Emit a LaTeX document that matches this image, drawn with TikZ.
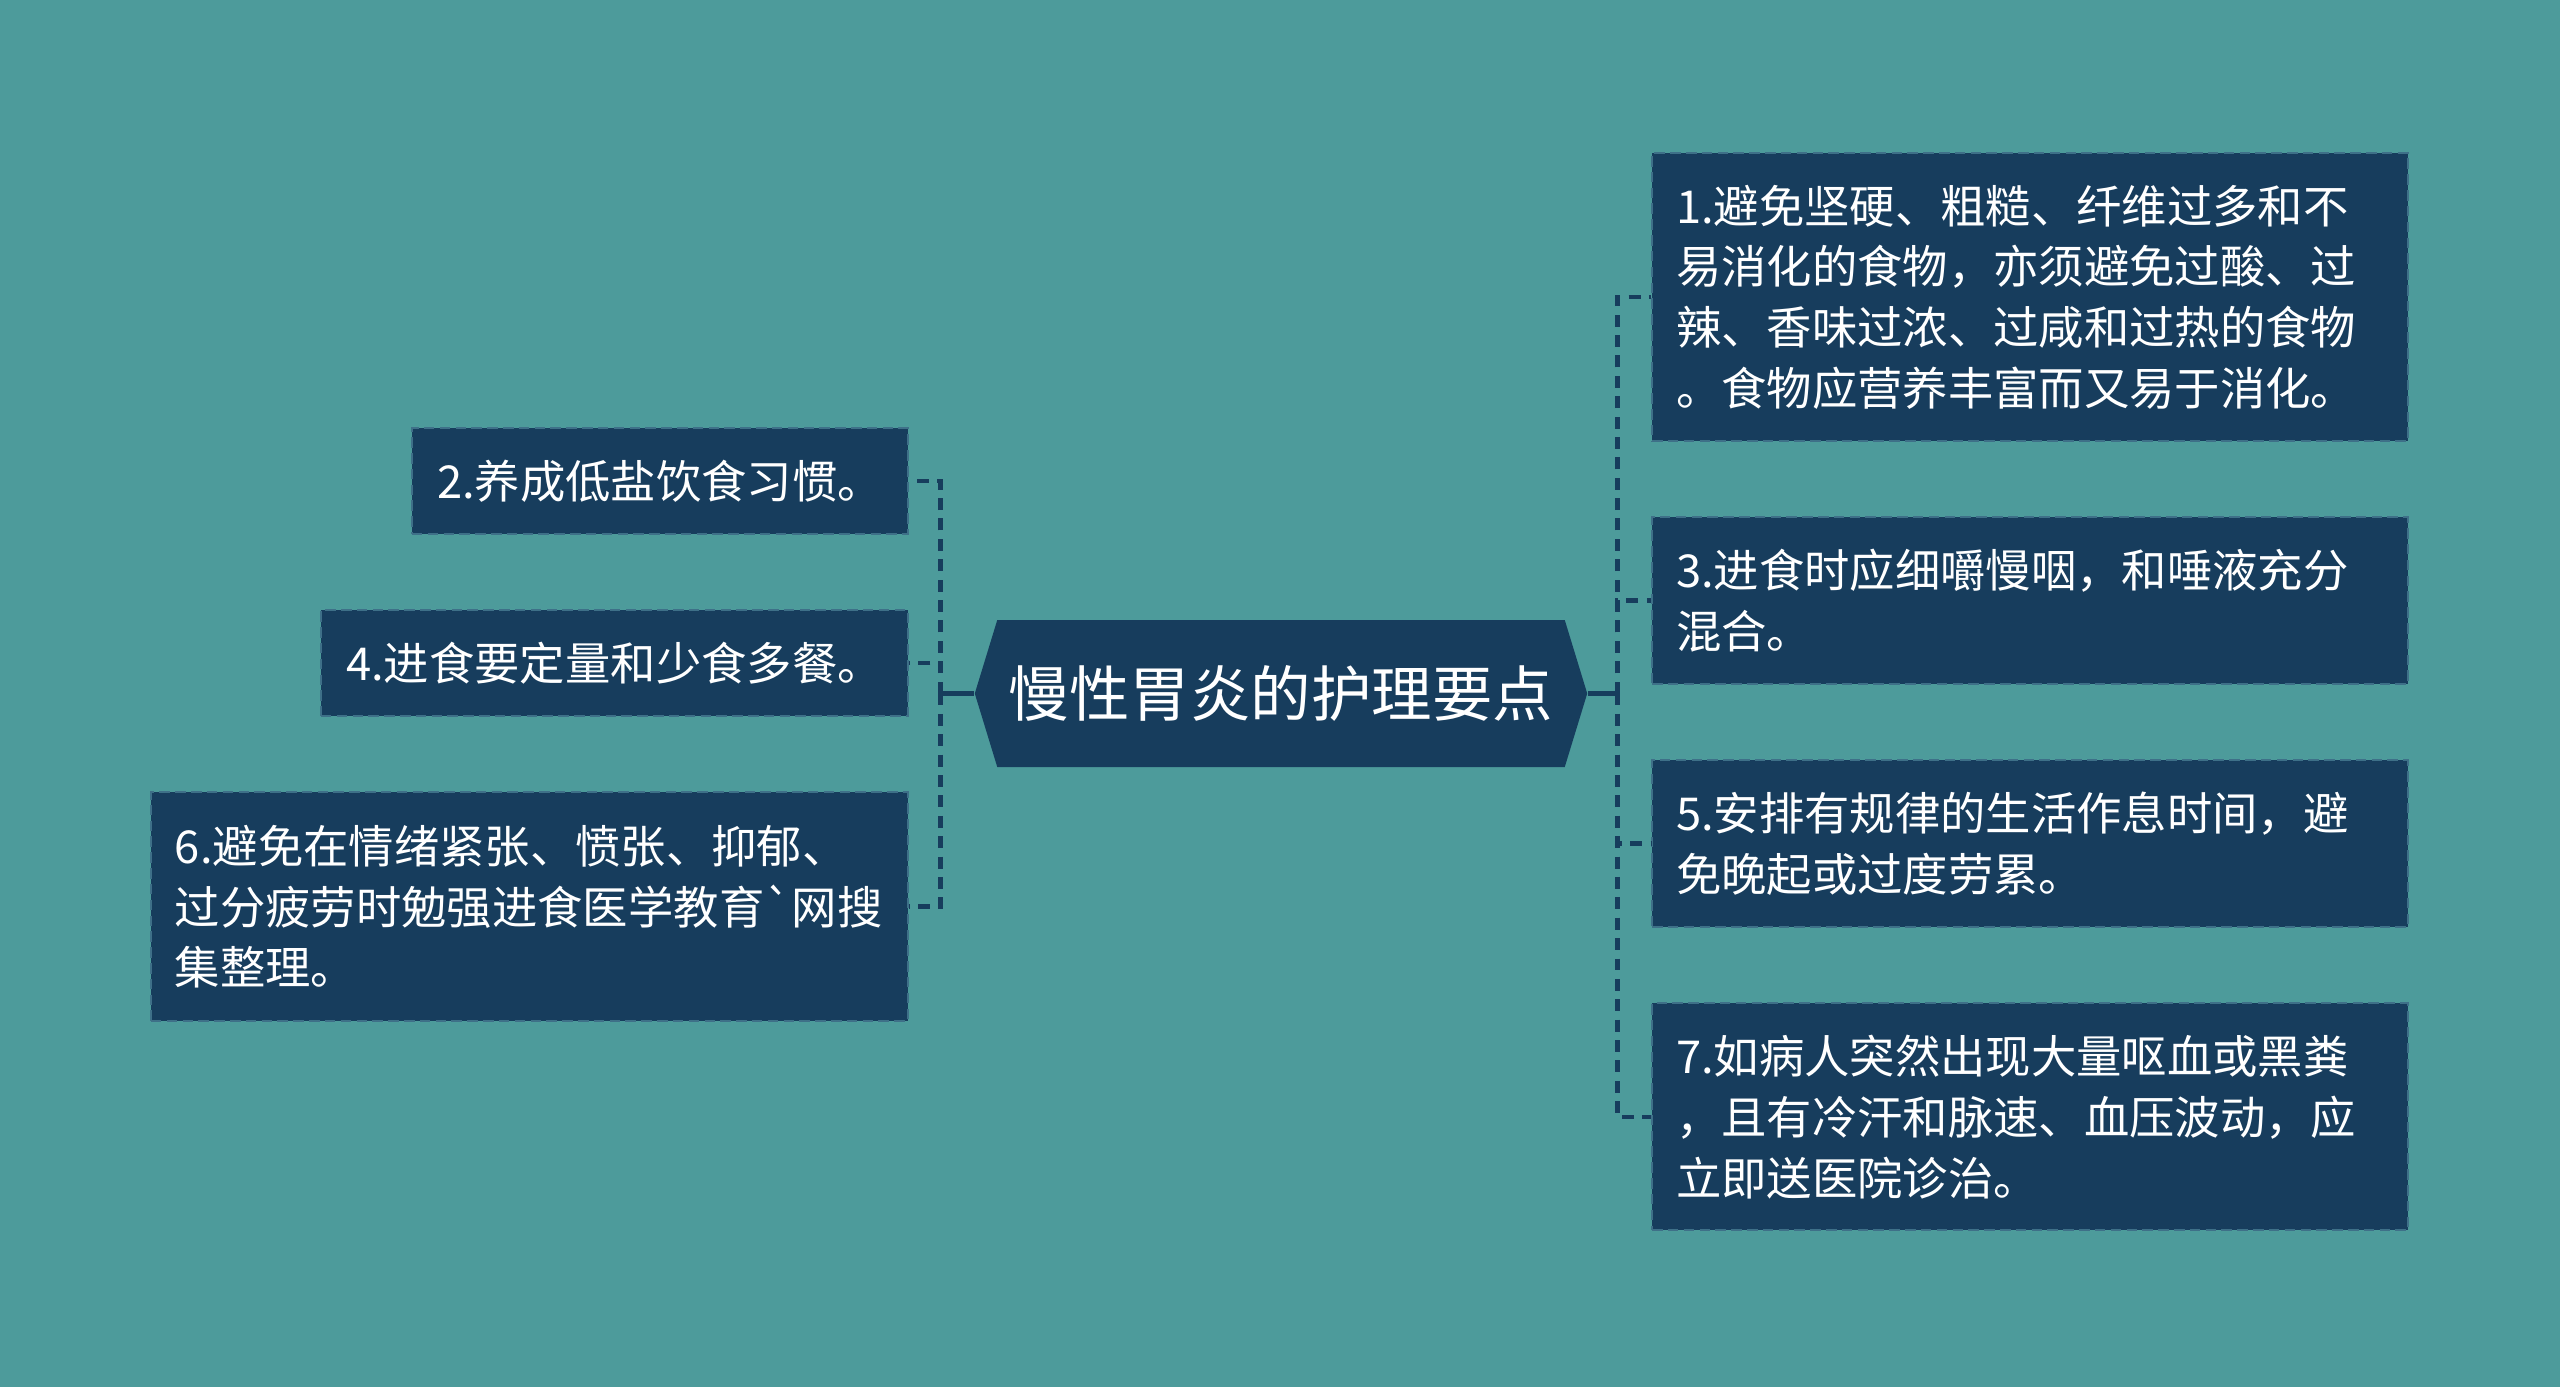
\documentclass[tikz,border=0pt]{standalone}
\usepackage{fontspec}
\setmainfont{Noto Sans CJK SC}
\usetikzlibrary{positioning,shapes.symbols}
\definecolor{bgteal}{HTML}{4D9B9B}
\definecolor{navy}{HTML}{173D5D}
\definecolor{edgeblue}{HTML}{3E7088}

\begin{document}
\begin{tikzpicture}[
    node distance=0.74cm,
    item/.style={fill=navy, draw=edgeblue, dash pattern=on 3pt off 1.5pt,
        line width=0.6pt, text=white, inner xsep=0.24cm,
        font=\fontsize{12.9}{17.3}\selectfont},
    ritem/.style={item, text width=7.08cm, align=left},
    link/.style={navy, line width=1.3pt, dash pattern=on 3.4pt off 2.4pt},
    semithick]
    \fill[bgteal] (0,0) rectangle (25.6,13.87);

    % centre
    \node[signal, signal to=west and east, signal pointer angle=146,
        fill=navy, text=white, font=\fontsize{17.2}{20}\selectfont,
        minimum width=6.12cm, minimum height=1.47cm] (hub) at (12.81,6.935)
        {慢性胃炎的护理要点};

    % right column
    \node[ritem, minimum height=2.88cm, anchor=north west] (n1) at (16.51,12.35)
        {1.避免坚硬、粗糙、纤维过多和不\\易消化的食物，亦须避免过酸、过\\辣、香味过浓、过咸和过热的食物\\。食物应营养丰富而又易于消化。};
    \node[ritem, minimum height=1.67cm, below=of n1] (n3)
        {3.进食时应细嚼慢咽，和唾液充分\\混合。};
    \node[ritem, minimum height=1.67cm, below=of n3] (n5)
        {5.安排有规律的生活作息时间，避\\免晚起或过度劳累。};
    \node[ritem, minimum height=2.27cm, below=of n5] (n7)
        {7.如病人突然出现大量呕血或黑粪\\，且有冷汗和脉速、血压波动，应\\立即送医院诊治。};

    % left column
    \node[item, minimum width=4.96cm, minimum height=1.06cm, anchor=north east] (n2) at (9.09,9.60)
        {2.养成低盐饮食习惯。};
    \node[item, minimum width=5.87cm, minimum height=1.06cm,
        below=of n2.south east, anchor=north east] (n4)
        {4.进食要定量和少食多餐。};
    \node[item, text width=7.09cm, align=left, minimum height=2.29cm,
        below=of n4.south east, anchor=north east] (n6)
        {6.避免在情绪紧张、愤张、抑郁、\\过分疲劳时勉强进食医学教育{\addfontfeature{Ligatures=TeXOff}`}网搜\\集整理。};

    % connectors
    \coordinate[right=0.29cm of hub.east] (rbus);
    \coordinate[left=0.33cm of hub.west] (lbus);
    \draw[navy, line width=1.3pt] (hub.east) -- (rbus);
    \draw[navy, line width=1.3pt] (hub.west) -- (lbus);
    \foreach \n in {n1,n3,n5,n7}
        \draw[link] (rbus) |- (\n.west);
    \foreach \n in {n2,n4,n6}
        \draw[link] (lbus) |- (\n.east);
\end{tikzpicture}
\end{document}
